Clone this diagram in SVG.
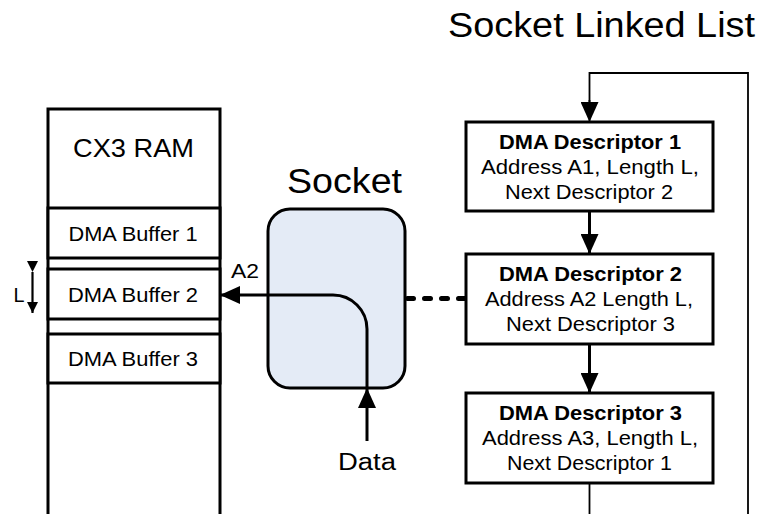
<svg xmlns="http://www.w3.org/2000/svg" width="761" height="514" viewBox="0 0 761 514">
<defs>
<marker id="ah" viewBox="0 0 20 18" refX="19" refY="9" markerWidth="20" markerHeight="18" markerUnits="userSpaceOnUse" orient="auto">
<path d="M0,0 L20,9 L0,18 Z" fill="#000"/>
</marker>
<marker id="ahs" viewBox="0 0 11 11" refX="11" refY="5.5" markerWidth="11" markerHeight="11" markerUnits="userSpaceOnUse" orient="auto">
<path d="M0,0 L11,5.5 L0,11 Z" fill="#000"/>
</marker>
</defs>
<style>
text{font-family:"Liberation Sans",Arial,sans-serif;fill:#000;text-anchor:middle}
.box{fill:#fff;stroke:#000;stroke-width:3}
.ln{fill:none;stroke:#000;stroke-width:3}
.d{font-size:20.5px}
.b{font-weight:bold}
.buf{font-size:21px}
</style>
<rect width="761" height="514" fill="#fff"/>
<text x="601.5" y="37" font-size="35" textLength="307" lengthAdjust="spacingAndGlyphs">Socket Linked List</text>
<g id="ram">
<path class="ln" d="M48,516 V109 H220 V516"/>
<text x="133.5" y="157" font-size="25" textLength="121" lengthAdjust="spacingAndGlyphs">CX3 RAM</text>
</g>
<g id="buffer1">
<rect class="box" x="48" y="208" width="172" height="50"/>
<text x="133" y="241" class="buf" textLength="129" lengthAdjust="spacingAndGlyphs">DMA Buffer 1</text>
</g>
<g id="buffer2">
<rect class="box" x="48" y="269" width="172" height="50"/>
<text x="133" y="302" class="buf" textLength="130" lengthAdjust="spacingAndGlyphs">DMA Buffer 2</text>
</g>
<g id="buffer3">
<rect class="box" x="48" y="334" width="172" height="49"/>
<text x="133" y="366" class="buf" textLength="130" lengthAdjust="spacingAndGlyphs">DMA Buffer 3</text>
</g>
<g id="lenmark">
<text x="19" y="302" font-size="21" textLength="11" lengthAdjust="spacingAndGlyphs">L</text>
<line x1="32.5" y1="272" x2="32.5" y2="313" stroke="#000" stroke-width="2.2" marker-start="url(#ahs)" marker-end="url(#ahs)"/>
</g>
<g id="socket">
<text x="344.5" y="193" font-size="35" textLength="115" lengthAdjust="spacingAndGlyphs">Socket</text>
<rect x="268" y="209" width="137" height="179" rx="22" fill="#e4ebf6" stroke="#000" stroke-width="3"/>
</g>
<g id="desc1">
<rect class="box" x="466" y="122" width="247" height="89"/>
<text x="590" y="149" class="d b" textLength="182" lengthAdjust="spacingAndGlyphs">DMA Descriptor 1</text>
<text x="590" y="174" class="d" textLength="218" lengthAdjust="spacingAndGlyphs">Address A1, Length L,</text>
<text x="589" y="199" class="d" textLength="168" lengthAdjust="spacingAndGlyphs">Next Descriptor 2</text>
</g>
<g id="desc2">
<rect class="box" x="466" y="254" width="247" height="90"/>
<text x="590.5" y="281" class="d b" textLength="183" lengthAdjust="spacingAndGlyphs">DMA Descriptor 2</text>
<text x="589" y="306" class="d" textLength="208" lengthAdjust="spacingAndGlyphs">Address A2 Length L,</text>
<text x="590.5" y="331" class="d" textLength="169" lengthAdjust="spacingAndGlyphs">Next Descriptor 3</text>
</g>
<g id="desc3">
<rect class="box" x="466" y="393" width="247" height="90"/>
<text x="590.5" y="420" class="d b" textLength="183" lengthAdjust="spacingAndGlyphs">DMA Descriptor 3</text>
<text x="590" y="445" class="d" textLength="216" lengthAdjust="spacingAndGlyphs">Address A3, Length L,</text>
<text x="589.5" y="470" class="d" textLength="165" lengthAdjust="spacingAndGlyphs">Next Descriptor 1</text>
</g>
<g id="connectors">
<path class="ln" d="M367,388 V329 A34,34 0 0 0 333,295 H221" marker-end="url(#ah)"/>
<text x="245" y="278" font-size="21" textLength="28" lengthAdjust="spacingAndGlyphs">A2</text>
<line x1="367" y1="441" x2="367" y2="389" class="ln" marker-end="url(#ah)"/>
<text x="367" y="470" font-size="23" textLength="58" lengthAdjust="spacingAndGlyphs">Data</text>
<line x1="407.5" y1="298.5" x2="465" y2="298.5" stroke="#000" stroke-width="5" stroke-dasharray="6,11" stroke-linecap="round"/>
<line x1="589.5" y1="211" x2="589.5" y2="253" class="ln" marker-end="url(#ah)"/>
<line x1="589.5" y1="344" x2="589.5" y2="392" class="ln" marker-end="url(#ah)"/>
<path d="M589.5,483 V516 M748,516 V73 H589.5 V110" fill="none" stroke="#000" stroke-width="1.8"/>
<line x1="589.5" y1="100" x2="589.5" y2="121" stroke="#000" stroke-width="1.8" marker-end="url(#ah)"/>
</g>
</svg>
